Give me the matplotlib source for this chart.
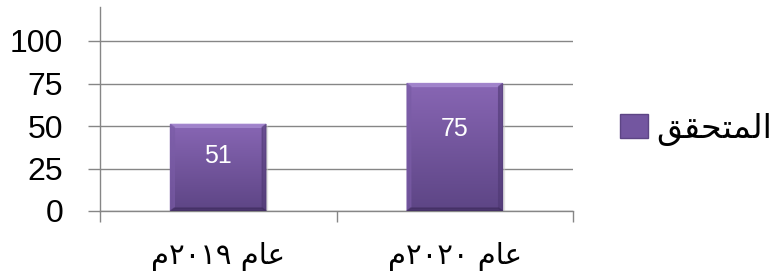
import numpy as np
import matplotlib
matplotlib.use("Agg")
import matplotlib.pyplot as plt
from matplotlib.colors import LinearSegmentedColormap
from matplotlib.patches import Polygon, Rectangle

categories = ["عام ٢٠١٩م", "عام ٢٠٢٠م"]
values = [51, 75]
series_name = "المتحقق"
y_ticks = [0, 25, 50, 75, 100]

GRID = "#868686"
BAR_TOP = "#8866B4"
BAR_BOTTOM = "#5D4585"

# isolated, final, initial, medial
FORMS = {
    "ا": ("\uFE8D", "\uFE8E", None, None),
    "ل": ("\uFEDD", "\uFEDE", "\uFEDF", "\uFEE0"),
    "م": ("\uFEE1", "\uFEE2", "\uFEE3", "\uFEE4"),
    "ت": ("\uFE95", "\uFE96", "\uFE97", "\uFE98"),
    "ح": ("\uFEA1", "\uFEA2", "\uFEA3", "\uFEA4"),
    "ق": ("\uFED5", "\uFED6", "\uFED7", "\uFED8"),
    "ع": ("\uFEC9", "\uFECA", "\uFECB", "\uFECC"),
}


def joins_forward(ch):
    return ch in FORMS and FORMS[ch][2] is not None


def shape(text):
    """Poor man's Arabic shaping + bidi, matplotlib does neither."""
    out = []
    for i, ch in enumerate(text):
        if ch not in FORMS:
            out.append(ch)
            continue
        prev = i > 0 and joins_forward(text[i - 1])
        nxt = joins_forward(ch) and i + 1 < len(text) and text[i + 1] in FORMS
        iso, fin, ini, med = FORMS[ch]
        if prev and nxt:
            out.append(med)
        elif prev:
            out.append(fin)
        elif nxt:
            out.append(ini)
        else:
            out.append(iso)
    shaped = "".join(out)

    # split into digit runs (stay LTR) and the rest (RTL)
    runs = []
    for ch in shaped:
        is_digit = "\u0660" <= ch <= "\u0669" or ch.isdigit()
        if runs and runs[-1][0] == is_digit:
            runs[-1][1].append(ch)
        else:
            runs.append([is_digit, [ch]])
    visual = []
    for is_digit, chars in reversed(runs):
        visual.append("".join(chars if is_digit else reversed(chars)))
    return "".join(visual).strip()


fig = plt.figure(figsize=(7.75, 2.8), dpi=100)
ax = fig.add_axes([100 / 775, 1 - 211 / 280, 473 / 775, 204 / 280])

x = np.arange(len(categories))
bars = ax.bar(x, values, width=0.405, color="none", zorder=3)

ax.set_xlim(-0.5, len(categories) - 0.5)
ax.set_ylim(0, 120)

cmap = LinearSegmentedColormap.from_list("bar", [BAR_BOTTOM, BAR_TOP])
grad = np.linspace(1, 0, 256).reshape(-1, 1)

# bevel size in data units (about 4 px)
inv = ax.transData.inverted()
p0 = inv.transform((0, 0))
p1 = inv.transform((4, 3))
bx, by = p1 - p0

for bar, v in zip(bars, values):
    x0, y0 = bar.get_x(), bar.get_y()
    w, h = bar.get_width(), bar.get_height()
    ax.add_patch(Rectangle((x0 + 0.004, y0 - 1.0), w, h, color="#c8c8c8",
                           alpha=0.4, zorder=2))
    ax.imshow(grad, extent=(x0, x0 + w, y0, y0 + h), cmap=cmap,
              aspect="auto", zorder=3, interpolation="bicubic")
    top = Polygon([(x0, y0 + h), (x0 + w, y0 + h), (x0 + w - bx, y0 + h - by),
                   (x0 + bx, y0 + h - by)], color="#a68ad0", alpha=0.8, zorder=4)
    left = Polygon([(x0, y0), (x0, y0 + h), (x0 + bx, y0 + h - by),
                    (x0 + bx, y0 + by)], color="#7a5ca6", alpha=0.6, zorder=4)
    right = Polygon([(x0 + w, y0), (x0 + w, y0 + h), (x0 + w - bx, y0 + h - by),
                     (x0 + w - bx, y0 + by)], color="#4e3872", alpha=0.5, zorder=4)
    bottom = Polygon([(x0, y0), (x0 + w, y0), (x0 + w - bx, y0 + by),
                      (x0 + bx, y0 + by)], color="#3f2c5e", alpha=0.6, zorder=4)
    for p in (top, left, right, bottom):
        ax.add_patch(p)
    ax.text(x0 + w / 2, v * 0.64, str(v), ha="center", va="center",
            color="white", fontsize=18, family="Liberation Sans", zorder=5)

ax.set_ylim(0, 120)
ax.set_xlim(-0.5, len(categories) - 0.5)

ax.set_yticks(y_ticks)
ax.set_yticklabels([str(t) for t in y_ticks], family="Liberation Sans", fontsize=23)
ax.tick_params(axis="y", length=8.6, width=1, color=GRID, pad=18)
ax.grid(axis="y", color=GRID, linewidth=1, zorder=1)

ax.set_xticks(x)
ax.set_xticklabels([shape(c) for c in categories], family="DejaVu Sans", fontsize=21)
ax.set_xticks(np.arange(len(categories) + 1) - 0.5, minor=True)
ax.tick_params(axis="x", which="major", length=0, pad=22)
ax.tick_params(axis="x", which="minor", length=8, width=1, color=GRID)

for side in ("top", "right"):
    ax.spines[side].set_visible(False)
for side in ("left", "bottom"):
    ax.spines[side].set_color(GRID)
    ax.spines[side].set_linewidth(1)
ax.set_axisbelow(True)

handle = Rectangle((0, 0), 1, 1, facecolor="#7356A0", edgecolor="#5D4585")
fig.legend([handle], [shape(series_name)], loc="center left",
           bbox_to_anchor=(0.80, 0.54), frameon=False, borderpad=0,
           borderaxespad=0, handlelength=0.85, handleheight=0.72,
           handletextpad=0.25, prop={"family": "DejaVu Sans", "size": 24})

fig.savefig("out.png", dpi=100)
